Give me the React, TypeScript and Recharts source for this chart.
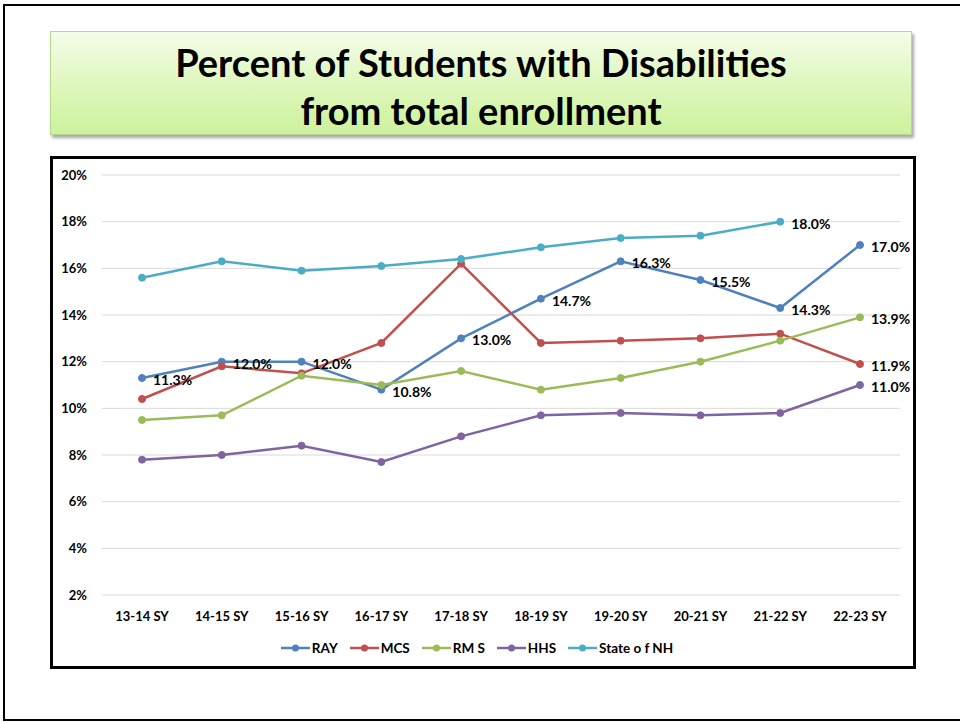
import React from "react";
import {
  LineChart,
  Line,
  XAxis,
  YAxis,
  CartesianGrid,
  Legend,
  LabelList,
} from "recharts";

const categories = [
  "13-14 SY",
  "14-15 SY",
  "15-16 SY",
  "16-17 SY",
  "17-18 SY",
  "18-19 SY",
  "19-20 SY",
  "20-21 SY",
  "21-22 SY",
  "22-23 SY",
];

const ray = [11.3, 12.0, 12.0, 10.8, 13.0, 14.7, 16.3, 15.5, 14.3, 17.0];
const mcs = [10.4, 11.8, 11.5, 12.8, 16.2, 12.8, 12.9, 13.0, 13.2, 11.9];
const rms = [9.5, 9.7, 11.4, 11.0, 11.6, 10.8, 11.3, 12.0, 12.9, 13.9];
const hhs = [7.8, 8.0, 8.4, 7.7, 8.8, 9.7, 9.8, 9.7, 9.8, 11.0];
const stateNH = [15.6, 16.3, 15.9, 16.1, 16.4, 16.9, 17.3, 17.4, 18.0, null];

const yTicks = [2, 4, 6, 8, 10, 12, 14, 16, 18, 20];

// which points carry a value label
const rayLabeled = [0, 1, 2, 3, 4, 5, 6, 7, 8, 9];
const mcsLabeled = [9];
const rmsLabeled = [9];
const hhsLabeled = [9];
const nhLabeled = [8];

const FONT = "Lato, 'Open Sans', sans-serif";

const series = [
  { key: "ray", name: "RAY", color: "#4F81BD", labeled: rayLabeled },
  { key: "mcs", name: "MCS", color: "#C0504D", labeled: mcsLabeled },
  { key: "rms", name: "RM S", color: "#9BBB59", labeled: rmsLabeled },
  { key: "hhs", name: "HHS", color: "#8064A2", labeled: hhsLabeled },
  { key: "nh", name: "State o f NH", color: "#4BACC6", labeled: nhLabeled },
];

const data = categories.map((c, i) => ({
  cat: c,
  ray: ray[i],
  mcs: mcs[i],
  rms: rms[i],
  hhs: hhs[i],
  nh: stateNH[i],
}));

function makeLabel(labeled: number[]) {
  return (props: any) => {
    const { x, y, value, index } = props;
    if (value == null || !labeled.includes(index)) return null;
    return (
      <text
        x={x + 11}
        y={y + 7}
        fontFamily={FONT}
        fontWeight={700}
        fontSize={14}
        fill="#000"
      >
        {`${Number(value).toFixed(1)}%`}
      </text>
    );
  };
}

function renderLegend() {
  return (
    <div
      style={{
        display: "flex",
        justifyContent: "center",
        alignItems: "center",
        fontFamily: FONT,
        fontWeight: 700,
        fontSize: 13.5,
        color: "#000",
        height: 20,
      }}
    >
      {series.map((s) => (
        <div key={s.key} style={{ display: "flex", alignItems: "center", marginRight: 12 }}>
          <svg width={29} height={10} style={{ marginRight: 2 }}>
            <line x1={0} y1={5} x2={29} y2={5} stroke={s.color} strokeWidth={2.5} />
            <circle cx={14.5} cy={5} r={3.5} fill={s.color} />
          </svg>
          <span>{s.name}</span>
        </div>
      ))}
    </div>
  );
}

export default function App() {
  return (
    <div
      style={{
        position: "absolute",
        left: 0,
        top: 0,
        width: 960,
        height: 722,
        background: "#fff",
        overflow: "hidden",
      }}
    >
      {/* slide frame */}
      <div
        style={{
          position: "absolute",
          left: 3,
          top: 4,
          width: 980,
          height: 717,
          borderLeft: "2px solid #000",
          borderTop: "2px solid #000",
          borderBottom: "2px solid #000",
          boxSizing: "border-box",
        }}
      />
      {/* title box */}
      <div
        style={{
          position: "absolute",
          left: 50,
          top: 31,
          width: 862,
          height: 104,
          boxSizing: "border-box",
          paddingTop: 5,
          border: "1px solid #b5d98c",
          background: "linear-gradient(to bottom, #f4fde9 0%, #dff7bf 50%, #cdf29c 100%)",
          boxShadow: "2px 3px 3px rgba(0,0,0,0.35)",
          display: "flex",
          flexDirection: "column",
          alignItems: "center",
          justifyContent: "center",
          fontFamily: FONT,
          fontWeight: 700,
          fontSize: 38,
          lineHeight: "48px",
          color: "#000",
        }}
      >
        <div>Percent of Students with Disabilities</div>
        <div>from total enrollment</div>
      </div>
      {/* chart box */}
      <div
        style={{
          position: "absolute",
          left: 50,
          top: 156,
          width: 866,
          height: 513,
          boxSizing: "border-box",
          border: "3px solid #000",
          background: "#fff",
        }}
      />
      <div style={{ position: "absolute", left: 0, top: 0 }}>
        <LineChart
          width={960}
          height={722}
          data={data}
          margin={{ top: 175, right: 60, left: 42, bottom: 77 }}
        >
          <CartesianGrid vertical={false} stroke="#d9d9d9" strokeWidth={1} />
          <XAxis
            dataKey="cat"
            axisLine={false}
            tickLine={false}
            tickMargin={11}
            height={30}
            padding={{ left: 40, right: 40 }}
            interval={0}
            tick={{ fontFamily: FONT, fontWeight: 700, fontSize: 13, fill: "#000" }}
          />
          <YAxis
            domain={[2, 20]}
            ticks={yTicks}
            axisLine={false}
            tickLine={false}
            tickMargin={9}
            width={60}
            tickFormatter={(v) => `${v}%`}
            tick={{ fontFamily: FONT, fontWeight: 700, fontSize: 13, fill: "#000" }}
          />
          <Legend
            content={renderLegend}
            wrapperStyle={{ top: 638, left: 50, width: 866, height: 20 }}
          />
          {series.map((s) => (
            <Line
              key={s.key}
              type="linear"
              dataKey={s.key}
              name={s.name}
              stroke={s.color}
              strokeWidth={2.5}
              dot={{ r: 3.5, fill: s.color, stroke: s.color, strokeWidth: 1 }}
              activeDot={false}
              isAnimationActive={false}
            >
              <LabelList dataKey={s.key} content={makeLabel(s.labeled)} />
            </Line>
          ))}
        </LineChart>
      </div>
    </div>
  );
}
